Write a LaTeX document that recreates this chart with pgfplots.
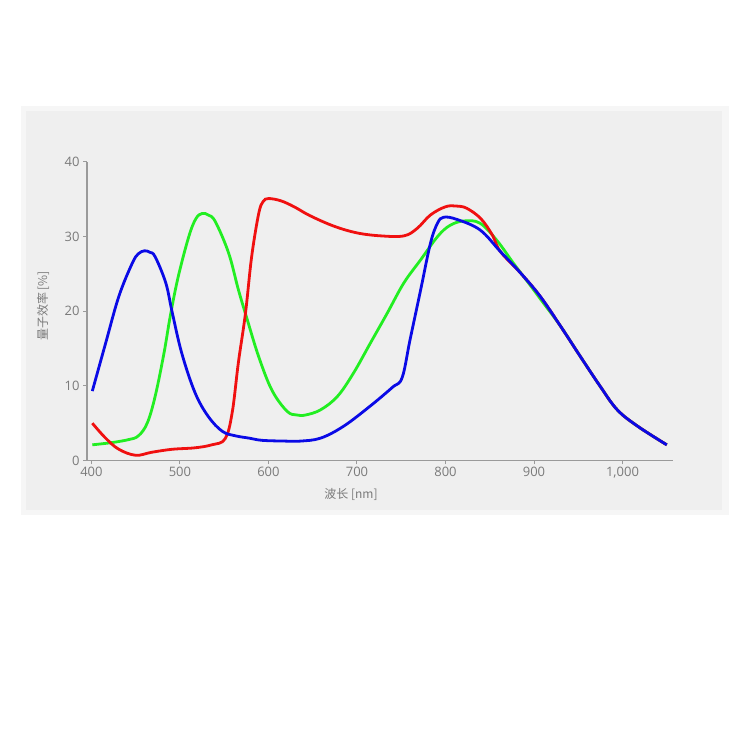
\documentclass[border=0pt]{standalone}
\usepackage{fontspec}
\setmainfont{Open Sans}
\newfontfamily\cjk{Noto Sans CJK SC}
\usepackage{pgfplots}
\pgfplotsset{compat=1.18}

\definecolor{panel}{HTML}{EFEFEF}
\definecolor{edge}{HTML}{F6F6F6}
\definecolor{axisgray}{HTML}{9A9A9A}
\definecolor{textgray}{HTML}{7A7A7A}
\definecolor{cblue}{HTML}{0A0AE6}
\definecolor{cgreen}{HTML}{22EE22}
\definecolor{cred}{HTML}{F01010}

\begin{document}
\begin{tikzpicture}
  \useasboundingbox (0pt,0pt) rectangle (750pt,750pt);
  \fill[white] (0pt,0pt) rectangle (750pt,750pt);
  \fill[edge] (21pt,235pt) rectangle (729pt,644pt);
  \fill[panel] (26pt,240pt) rectangle (722pt,639pt);

  \begin{axis}[
    at={(87pt,289.5pt)}, anchor=south west,
    scale only axis, width=585.7pt, height=298.5pt,
    xmin=395, xmax=1056.7, ymin=0, ymax=40,
    axis x line*=bottom, axis y line*=left,
    axis line style={axisgray, line width=1.1pt},
    xtick={400,500,600,700,800,900,1000},
    ytick={0,10,20,30,40},
    tick align=outside, major tick length=4pt,
    tick style={axisgray, line width=1pt},
    ticklabel style={textgray, font=\fontsize{13}{15}\selectfont},
    /pgf/number format/assume math mode=true,
    /pgf/number format/1000 sep={,},
    xticklabel style={yshift=1pt},
    clip=false,
  ]
    % green
    \addplot[cgreen, line width=2.8pt, smooth, tension=0.6] coordinates {
      (401,2.1)(423,2.4)(442,2.8)(453,3.3)(463,5.0)(472,8.6)(482,14.4)(489,19.3)
      (498,24.6)(510,30.0)(518,32.4)(525,33.1)(532,32.9)(540,32.0)(555,27.8)(566,22.9)(576,18.9)
      (589,13.9)(604,9.4)(621,6.6)(632,6.1)(642,6.1)(659,6.8)(678,8.6)(696,11.7)
      (715,15.7)(734,19.7)(753,23.8)(772,26.9)(791,30.0)(805,31.5)(821,32.1)
      (839,31.8)(858,29.5)(877,26.4)(895,23.6)(910,21.2)(930,18.0)(952,14.0)
      (975,9.9)(994,6.8)(1017,4.6)(1050,2.1)
    };
    % red
    \addplot[cred, line width=2.8pt, smooth, tension=0.6] coordinates {
      (401,5.0)(416,3.0)(431,1.5)(450,0.7)(468,1.1)(491,1.5)(517,1.7)(536,2.1)
      (551,2.9)(559,6.4)(566,13.1)(574,19.7)(581,27.3)(589,33.1)(594,34.7)(600,35.1)
      (614,34.8)(629,34.0)(647,32.8)(674,31.4)(700,30.5)(727,30.1)(753,30.1)
      (768,31.1)(783,32.9)(800,34.0)(812,34.1)(824,33.8)(840,32.4)(853,30.2)
      (862,28.0)(885,25.1)(907,22.0)(930,18.0)(952,14.0)(975,9.9)(994,6.8)
      (1017,4.6)(1050,2.1)
    };
    % blue
    \addplot[cblue, line width=2.8pt, smooth, tension=0.6] coordinates {
      (401,9.3)(416,15.7)(431,22.0)(446,26.4)(453,27.7)(460,28.1)(466,27.9)(472,27.3)(484,23.8)
      (491,20.0)(502,14.4)(517,9.1)(532,5.9)(548,3.9)(563,3.3)(578,3.0)
      (593,2.7)(619,2.6)(636,2.6)(659,3.0)(685,4.6)(715,7.3)(740,9.8)(751,11.1)
      (760,16.2)(772,22.9)(783,29.1)(791,31.8)(798,32.6)(813,32.3)(839,30.9)
      (862,28.0)(885,25.1)(907,22.0)(930,18.0)(952,14.0)(975,9.9)(994,6.8)
      (1017,4.6)(1050,2.1)
    };
  \end{axis}

  \node[textgray, font=\cjk\fontsize{12}{14}\selectfont] at (351pt,256pt) {波长 [nm]};
  \node[textgray, font=\cjk\fontsize{12}{14}\selectfont, rotate=90] at (43pt,444pt) {量子效率 [\%]};
\end{tikzpicture}
\end{document}
